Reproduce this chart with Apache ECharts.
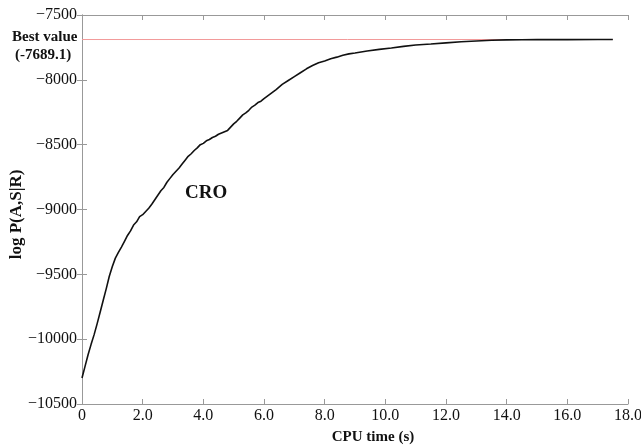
<!DOCTYPE html>
<html>
<head>
<meta charset="utf-8">
<script src="https://cdn.jsdelivr.net/npm/echarts@6/dist/echarts.min.js"></script>
<style>
  html, body { margin: 0; padding: 0; background: #fff; }
  #chart { width: 641px; height: 446px; }
</style>
</head>
<body>
<div id="chart"></div>
<script>
// CPU time (s) and log P(A,S|R) for the CRO run
const cpuTime = [
  0.00, 0.10, 0.20, 0.30, 0.40, 0.50, 0.60, 0.70, 0.80, 0.90,
  1.00, 1.10, 1.20, 1.30, 1.40, 1.50, 1.60, 1.70, 1.80, 1.90,
  2.00, 2.10, 2.20, 2.30, 2.40, 2.50, 2.60, 2.70, 2.80, 2.90,
  3.00, 3.10, 3.20, 3.30, 3.40, 3.50, 3.60, 3.70, 3.80, 3.90,
  4.00, 4.10, 4.20, 4.30, 4.40, 4.50, 4.60, 4.70, 4.80, 4.90,
  5.00, 5.10, 5.20, 5.30, 5.40, 5.50, 5.60, 5.70, 5.80, 5.90,
  6.00, 6.20, 6.40, 6.60, 6.80, 7.00, 7.20, 7.40, 7.60, 7.80,
  8.00, 8.20, 8.40, 8.60, 8.80, 9.00, 9.40, 9.80, 10.2, 10.6,
  11.0, 11.5, 12.0, 12.5, 13.0, 13.5, 14.0, 14.5, 15.0, 16.0,
  17.0, 17.5
];
const logP = [
  -10300, -10210, -10120, -10040, -9965, -9880, -9790, -9700, -9610, -9515,
  -9440, -9375, -9330, -9290, -9245, -9200, -9165, -9120, -9095, -9055,
  -9040, -9015, -8990, -8960, -8925, -8890, -8855, -8830, -8790, -8760,
  -8730, -8705, -8680, -8650, -8620, -8590, -8570, -8545, -8525, -8500,
  -8490, -8470, -8460, -8445, -8435, -8420, -8410, -8400, -8390, -8365,
  -8340, -8320, -8295, -8270, -8255, -8235, -8210, -8195, -8175, -8165,
  -8145, -8110, -8075, -8035, -8005, -7975, -7945, -7915, -7890, -7868,
  -7855, -7838, -7825, -7810, -7800, -7793, -7778, -7765, -7755, -7742,
  -7731, -7724, -7715, -7706, -7700, -7695, -7692, -7691, -7690, -7690,
  -7689, -7689
];
const bestValue = -7689.1;
const bestSpan = [0, 17.5];

const chart = echarts.init(document.getElementById('chart'));

const serif = '"Liberation Serif", "DejaVu Serif", serif';
const axisGray = '#999';

const option = {
  animation: false,
  grid: { left: 82, right: 13, top: 15, bottom: 42, outerBoundsMode: 'none', containLabel: false },
  xAxis: [
    {
      type: 'value', min: 0, max: 18, interval: 2,
      name: 'CPU time (s)', nameLocation: 'middle', nameGap: 26, nameMoveOverlap: false,
      nameTextStyle: { fontFamily: serif, fontWeight: 'bold', fontSize: 15, color: '#111', padding: [0, 0, 0, 36] },
      axisLine: { onZero: false, lineStyle: { color: axisGray } },
      axisTick: { inside: true, length: 5, lineStyle: { color: axisGray } },
      axisLabel: {
        fontFamily: serif, fontSize: 16, color: '#111', margin: 4,
        formatter: v => v === 0 ? '0' : v.toFixed(1)
      },
      splitLine: { show: false }
    },
    {
      type: 'value', min: 0, max: 18, interval: 2, position: 'top',
      axisLine: { lineStyle: { color: axisGray } },
      axisTick: { inside: true, length: 5, lineStyle: { color: axisGray } },
      axisLabel: { show: false },
      splitLine: { show: false }
    }
  ],
  yAxis: [
    {
      type: 'value', min: -10500, max: -7500, interval: 500,
      name: 'log P(A,S|R)', nameLocation: 'middle', nameGap: 57, nameMoveOverlap: false,
      nameTextStyle: { fontFamily: serif, fontWeight: 'bold', fontSize: 17, color: '#111', padding: [0, 10, 0, 0] },
      axisLine: { show: true, onZero: false, lineStyle: { color: axisGray } },
      axisTick: { show: true, inside: true, length: 5, lineStyle: { color: axisGray } },
      axisLabel: {
        fontFamily: serif, fontSize: 16, color: '#111', margin: 5,
        formatter: v => v < 0 ? '\u2212' + Math.abs(v) : String(v)
      },
      splitLine: { show: false }
    },
    {
      type: 'value', min: -10500, max: -7500, interval: 500, position: 'right',
      axisLine: { show: true, lineStyle: { color: axisGray } },
      axisTick: { show: true, inside: true, length: 5, lineStyle: { color: axisGray } },
      axisLabel: { show: false },
      splitLine: { show: false }
    }
  ],
  graphic: [
    {
      type: 'text', left: 12, top: 30,
      style: { text: 'Best value', font: 'bold 15px ' + serif, fill: '#111' }
    },
    {
      type: 'text', left: 15, top: 48,
      style: { text: '(-7689.1)', font: 'bold 15px ' + serif, fill: '#111' }
    },
    {
      type: 'text', left: 185, top: 184,
      style: { text: 'CRO', font: 'bold 19px ' + serif, fill: '#111' }
    }
  ],
  series: [
    {
      type: 'line',
      data: bestSpan.map(t => [t, bestValue]),
      symbol: 'none',
      lineStyle: { color: '#f29a9a', width: 1 },
      z: 1
    },
    {
      type: 'line',
      data: cpuTime.map((t, i) => [t, logP[i]]),
      symbol: 'none',
      lineStyle: { color: '#111', width: 1.6 },
      z: 2
    }
  ]
};

chart.setOption(option);
</script>
</body>
</html>
